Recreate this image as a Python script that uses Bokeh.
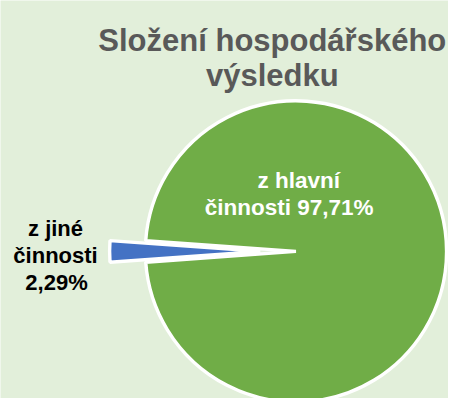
import math
from bokeh.plotting import figure
from bokeh.models import ColumnDataSource, Range1d
from bokeh.core.properties import value
from bokeh.embed import file_html
from bokeh.resources import INLINE

# ---- data ----
categories = ["z hlavní činnosti", "z jiné činnosti"]
values = [97.71, 2.29]
colors = ["#70ad47", "#4472c4"]
label_lines = [["z hlavní", "činnosti 97,71%"], ["z jiné", "činnosti", "2,29%"]]
title_lines = ["Složení hospodářského", "výsledku"]

BG = "#e2efda"
W, H = 448, 398
# data coordinates = pixel coordinates of the 464x414 reference canvas (y up)
p = figure(width=W, height=H, output_backend="svg", toolbar_location=None,
           x_range=Range1d(0, 464), y_range=Range1d(0, 414),
           x_axis_type=None, y_axis_type=None, min_border=0,
           background_fill_color=BG, border_fill_color=BG, outline_line_color=None)
p.grid.visible = False

cx, cy, r = 306, 414 - 261, 156
explode = [0, 37]
total = sum(values)
angs = [v / total * 2 * math.pi for v in values]
starts = [math.pi + angs[1] / 2, math.pi - angs[1] / 2]
ends = [starts[0] + angs[0], math.pi + angs[1] / 2]
mids = [(s + e) / 2 for s, e in zip(starts, ends)]
xs = [cx + d * math.cos(m) for d, m in zip(explode, mids)]
ys = [cy + d * math.sin(m) for d, m in zip(explode, mids)]

src = ColumnDataSource(dict(x=xs, y=ys, start=starts, end=ends, color=colors,
                            cat=categories, val=values))
p.wedge(x="x", y="y", radius=r, start_angle="start", end_angle="end",
        fill_color="color", line_color="white", line_width=3.4, source=src)

font = value("Liberation Sans")

# title
p.text(x=[281.5, 281.5], y=[414 - 42, 414 - 78], text=title_lines,
       text_font=font, text_font_style="bold", text_font_size="31px",
       text_color="#595959", text_align="center", text_baseline="alphabetic")

# slice labels
p.text(x=[309, 299], y=[414 - 187, 414 - 215], text=label_lines[0],
       text_font=font, text_font_style="bold", text_font_size="22.5px",
       text_color="white", text_align="center", text_baseline="alphabetic")
p.text(x=[57, 57, 58], y=[414 - 237, 414 - 265, 414 - 293], text=label_lines[1],
       text_font=font, text_font_style="bold", text_font_size="22px",
       text_color="black", text_align="center", text_baseline="alphabetic")

open("out.html", "w").write(file_html(p, INLINE))
